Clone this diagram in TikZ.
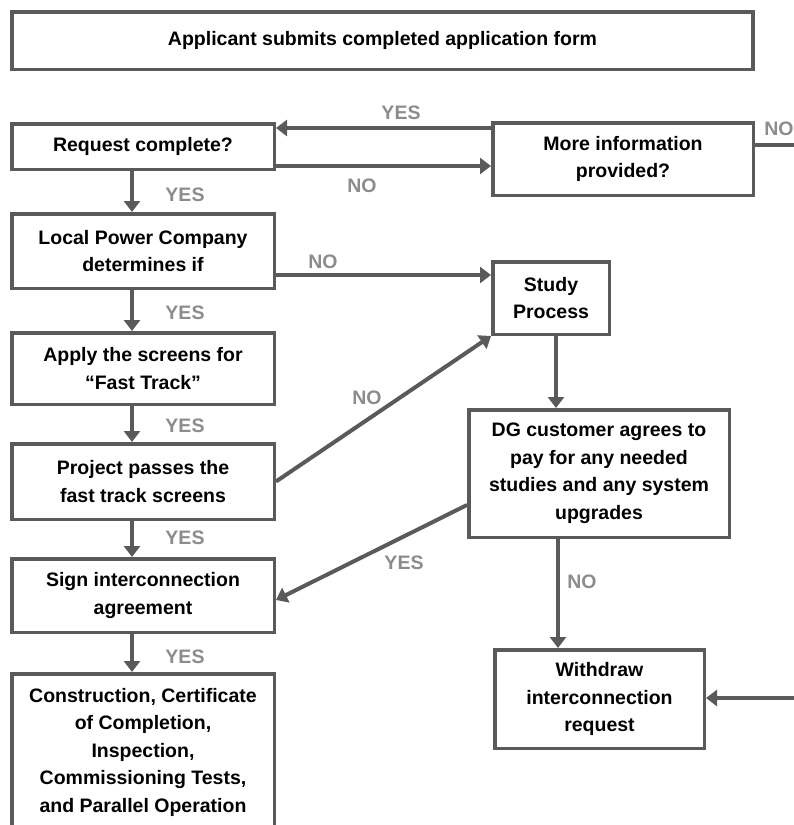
\documentclass[tikz,border=0pt]{standalone}
\usepackage{fontspec}
\setmainfont{Liberation Sans}
\usetikzlibrary{positioning,arrows.meta,calc}

\definecolor{linegray}{HTML}{5A5A5A}
\definecolor{labelgray}{HTML}{8C8C8C}
\newcommand{\boxfont}{\fontsize{19.5}{27.5}\selectfont}

\tikzset{
  box/.style = {draw=linegray, line width=3.5pt, fill=white, align=center,
                inner sep=0pt, font=\boxfont\bfseries},
  leftbox/.style = {box, minimum width=262.5pt},
  flow/.style = {draw=linegray, line width=4pt,
                 -{Triangle[length=11pt,width=16pt]}},
  plain/.style = {draw=linegray, line width=4pt},
  ans/.style = {text=labelgray, font=\boxfont\bfseries, inner sep=0pt},
}

\begin{document}
\begin{tikzpicture}[x=1pt, y=-1pt]
  \useasboundingbox (0,0) rectangle (794,825);
  \clip (0,0) rectangle (794,825);

  % left column
  \node[box, minimum width=741pt, minimum height=57.5pt] (top) at (382.5,40.5)
    {Applicant submits completed application form};
  \node[leftbox, minimum height=45.5pt] (req) at (143,146.5) {Request complete?};
  \node[leftbox, minimum height=74.5pt] (lpc) at (143,251)
    {Local Power Company\\determines if};
  \node[leftbox, minimum height=71.5pt] (apply) at (143,368.5)
    {Apply the screens for\\``Fast Track''};
  \node[leftbox, minimum height=75.5pt] (proj) at (143,481.5)
    {Project passes the\\fast track screens};
  \node[leftbox, minimum height=73.5pt] (sign) at (143,595.5)
    {Sign interconnection\\agreement};
  \node[leftbox, minimum height=156.5pt] (constr) at (143,752)
    {Construction, Certificate\\of Completion,\\Inspection,\\Commissioning Tests,\\and Parallel Operation};

  % right column
  \node[box, minimum width=260.5pt, minimum height=72.5pt] (more) at (623,159)
    {More information\\provided?};
  \node[box, minimum width=116.5pt, minimum height=72.5pt] (study) at (551,298)
    {Study\\Process};
  \node[box, minimum width=260.5pt, minimum height=127.5pt] (dg) at (599,473.5)
    {DG customer agrees to\\pay for any needed\\studies and any system\\upgrades};
  \node[box, minimum width=209.5pt, minimum height=98.5pt] (withdraw) at (599.5,699)
    {Withdraw\\interconnection\\request};

  \coordinate (noout) at (794,145);
  \coordinate (wdin) at (794,698);

  % connectors
  \draw[flow] ([xshift=-11pt]req.south) -- ([xshift=-11pt]lpc.north);
  \draw[flow] ([xshift=-11pt]lpc.south) -- ([xshift=-11pt]apply.north);
  \draw[flow] ([xshift=-11pt]apply.south) -- ([xshift=-11pt]proj.north);
  \draw[flow] ([xshift=-11pt]proj.south) -- ([xshift=-11pt]sign.north);
  \draw[flow] ([xshift=-11pt]sign.south) -- ([xshift=-11pt]constr.north);
  \draw[flow] ([yshift=31pt]more.west) -- ([yshift=18.5pt]req.east);
  \draw[flow] ([yshift=-19.5pt]req.east) -- ([yshift=-7pt]more.west);
  \draw[plain] ([yshift=14pt]more.east) -- (noout);
  \draw[flow] ([yshift=-24pt]lpc.east) -- ([yshift=23pt]study.west);
  \draw[flow] (proj.east) -- (study.south west);
  \draw[flow] ([xshift=5pt]study.south) -- ([xshift=-43pt]dg.north);
  \draw[flow] ([yshift=-31.5pt]dg.west) -- ([yshift=-4.5pt]sign.east);
  \draw[flow] ([xshift=-41pt]dg.south) -- ([xshift=-41.5pt]withdraw.north);
  \draw[flow] (wdin) -- (wdin -| withdraw.east);

  % answers
  \node[ans] (yes1) at (401,113) {YES};
  \node[ans] (no1) at (362,186) {NO};
  \node[ans] (no2) at (779,129) {NO};
  \node[ans] (yes2) at (185,195) {YES};
  \node[ans] (no3) at (323,262) {NO};
  \node[ans] (yes3) at (185,313) {YES};
  \node[ans] (no4) at (367,398) {NO};
  \node[ans] (yes4) at (185,426) {YES};
  \node[ans] (yes5) at (185,538) {YES};
  \node[ans] (yes6) at (404,563) {YES};
  \node[ans] (no5) at (582,582) {NO};
  \node[ans] (yes7) at (185,657) {YES};
\end{tikzpicture}
\end{document}
